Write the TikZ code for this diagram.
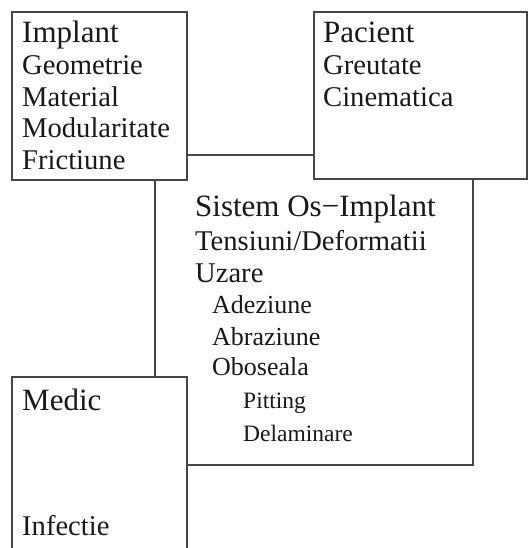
\documentclass[tikz,border=0pt]{standalone}
\usepackage{fontspec}
\setmainfont{Liberation Serif}
\definecolor{boxline}{RGB}{70,70,70}
\begin{document}
\begin{tikzpicture}[x=1pt,y=-1pt,
  box/.style={draw=boxline, line width=1.3pt, fill=white, inner sep=0pt, outer sep=0pt, anchor=north west},
  hd/.style={anchor=base west, inner sep=0pt, text=black!90, font=\fontsize{31}{33}\selectfont},
  it/.style={anchor=base west, inner sep=0pt, text=black!90, font=\fontsize{28.6}{32}\selectfont},
  subit/.style={anchor=base west, inner sep=0pt, text=black!90, font=\fontsize{26}{30}\selectfont},
  subsubit/.style={anchor=base west, inner sep=0pt, text=black!90, font=\fontsize{23.5}{28}\selectfont}]
\useasboundingbox (0,0) rectangle (530,548);
\clip (0,0) rectangle (530,548);
% boxes
\node[box, minimum width=318, minimum height=310] (sys) at (155,155) {};
\node[box, minimum width=175, minimum height=168] (impl) at (12,12) {};
\node[box, minimum width=213, minimum height=167] (pac) at (314,12) {};
\node[box, minimum width=175, minimum height=230] (med) at (12,377) {};
% Implant
\node[hd] (t1) at (22,43) {Implant};
\node[it] (t2) at (22,75) {Geometrie};
\node[it] (t3) at (22,107) {Material};
\node[it] (t4) at (22,138) {Modularitate};
\node[it] (t5) at (22,170) {Frictiune};
% Pacient
\node[hd] (p1) at (323,43) {Pacient};
\node[it] (p2) at (323,75) {Greutate};
\node[it] (p3) at (323,107) {Cinematica};
% Sistem
\node[hd] (s1) at (195,216) {Sistem Os\char"2212 Implant};
\node[it] (s2) at (195,250) {Tensiuni/Deformatii};
\node[it] (s3) at (195,282) {Uzare};
\node[subit] (s4) at (212,313) {Adeziune};
\node[subit] (s5) at (212,345) {Abraziune};
\node[subit] (s6) at (212,375) {Oboseala};
\node[subsubit] (s7) at (243,408) {Pitting};
\node[subsubit] (s8) at (243,441) {Delaminare};
% Medic
\node[hd] (m1) at (22,410) {Medic};
\node[it] (m2) at (22,535) {Infectie};
\end{tikzpicture}
\end{document}
